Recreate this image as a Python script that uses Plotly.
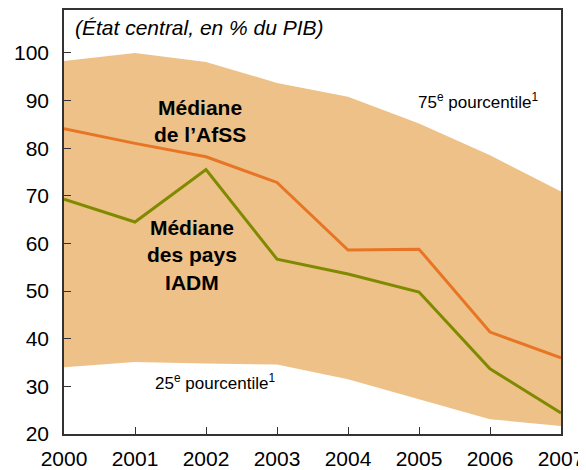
import plotly.graph_objects as go

years = [2000, 2001, 2002, 2003, 2004, 2005, 2006, 2007]
p75 = [98.3, 100.0, 98.1, 93.7, 90.8, 85.2, 78.5, 70.9]
p25 = [34.0, 35.1, 34.8, 34.6, 31.5, 27.3, 23.1, 21.7]
median_afss = [84.1, 81.0, 78.2, 72.8, 58.6, 58.8, 41.4, 36.0]
median_iadm = [69.3, 64.5, 75.5, 56.7, 53.6, 49.8, 33.7, 24.4]

fill_color = "#EDC187"
orange = "#E87525"
olive = "#7F8A00"
font = "Liberation Sans, Arial, sans-serif"

fig = go.Figure()

# band between 25th and 75th percentile
fig.add_trace(go.Scatter(x=years, y=p25, mode="lines", line=dict(width=0, color=fill_color),
                         showlegend=False, hoverinfo="skip"))
fig.add_trace(go.Scatter(x=years, y=p75, mode="lines", line=dict(width=0, color=fill_color),
                         fill="tonexty", fillcolor=fill_color, showlegend=False))

fig.add_trace(go.Scatter(x=years, y=median_afss, mode="lines",
                         line=dict(color=orange, width=3), showlegend=False))
fig.add_trace(go.Scatter(x=years, y=median_iadm, mode="lines",
                         line=dict(color=olive, width=3), showlegend=False))

annots = [
    dict(x=0.018, y=0.99, xref="paper", yref="paper", xanchor="left", yanchor="top",
         text="<i>(État central, en % du PIB)</i>", font=dict(size=21)),
    dict(x=2001.92, y=85.8, text="<b>Médiane<br>de l’AfSS</b>", font=dict(size=21)),
    dict(x=2001.80, y=57.6, text="<b>Médiane<br>des pays<br>IADM</b>", font=dict(size=21)),
    dict(x=2005.83, y=89.9, text="75<sup>e</sup> pourcentile<sup>1</sup>", font=dict(size=17)),
    dict(x=2002.13, y=30.9, text="25<sup>e</sup> pourcentile<sup>1</sup>", font=dict(size=17)),
]
for a in annots:
    a.setdefault("xref", "x")
    a.setdefault("yref", "y")
    a["showarrow"] = False
    a["font"]["family"] = font
    a["font"]["color"] = "black"
    fig.add_annotation(**a)

fig.update_xaxes(range=[2000, 2007], tickvals=years, ticks="inside", ticklen=7,
                 tickcolor="#333", showgrid=False, zeroline=False, showline=True,
                 linecolor="#333", linewidth=1.5, mirror=True, ticklabelstandoff=5,
                 tickfont=dict(size=21, family=font, color="black"))
fig.update_yaxes(range=[20, 109], tickvals=[20, 30, 40, 50, 60, 70, 80, 90, 100],
                 ticks="inside", ticklen=7, tickcolor="#333", showgrid=False,
                 zeroline=False, showline=True, linecolor="#333", linewidth=1.5,
                 mirror=True, ticklabelstandoff=9,
                 tickfont=dict(size=21, family=font, color="black"))

# page body adds 8px offset, so the figure is drawn slightly smaller
fig.update_layout(width=578, height=462, margin=dict(l=56, r=25, t=0, b=35),
                  paper_bgcolor="white", plot_bgcolor="white")

fig.write_html("out.html")
